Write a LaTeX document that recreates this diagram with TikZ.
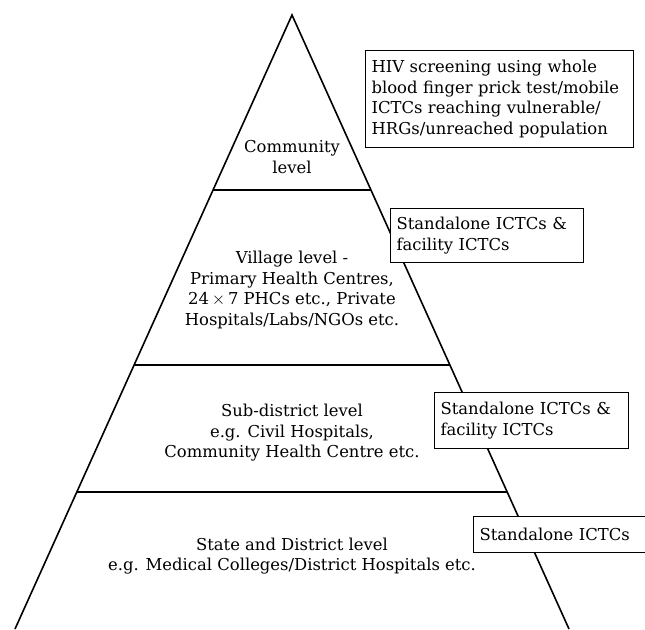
\documentclass[tikz,border=0pt]{standalone}
\usepackage{fontspec}
\setmainfont{DejaVu Serif}
\usepackage{tikz}
\usetikzlibrary{positioning, calc}
\newcommand{\tierfont}{\fontsize{16.4}{20.5}\selectfont}

\tikzset{
  tier/.style={align=center, font=\tierfont, inner sep=0pt},
  ictcbox/.style={draw, line width=1.2pt, fill=white, align=left, anchor=north west,
    inner xsep=6pt, inner ysep=4pt, font=\tierfont},
}

\begin{document}
\begin{tikzpicture}[x=1pt, y=-1pt, line width=1.6pt]
  \useasboundingbox (0,0) rectangle (645,629);
  % pyramid outline
  \coordinate (apex) at (292,15);
  \coordinate (bl) at (15,629);
  \coordinate (br) at (569,629);
  \draw (bl) -- (apex) -- (br);
  % tier separators
  \foreach \t/\n in {0.285/a, 0.570/b, 0.777/c} {
    \coordinate (sepL\n) at ($(apex)!\t!(bl)$);
    \coordinate (sepR\n) at ($(apex)!\t!(br)$);
    \draw (sepL\n) -- (sepR\n);
  }
  % tier labels
  \node[tier] (community) at (292,157) {Community\\level};
  \node[tier] (village) at (292,290) {Village level -\\Primary Health Centres,\\24\,$\times$\,7 PHCs etc., Private\\Hospitals/Labs/NGOs etc.};
  \node[tier] (subdistrict) at (292,433) {Sub-district level\\e.g. Civil Hospitals,\\Community Health Centre etc.};
  \node[tier] (state) at (292,556) {State and District level\\e.g. Medical Colleges/District Hospitals etc.};
  % testing facilities
  \node[ictcbox, text width=256pt, minimum height=97pt] (screenbox) at (365,50)
    {HIV screening using whole\\blood finger prick test/mobile\\ICTCs reaching vulnerable/\\HRGs/unreached population};
  \node[ictcbox, text width=181pt, minimum height=54pt] (villagebox) at (390,208)
    {Standalone ICTCs \&\\facility ICTCs};
  \node[ictcbox, text width=182pt, minimum height=56pt] (subbox) at (434,392)
    {Standalone ICTCs \&\\facility ICTCs};
  \node[ictcbox, text width=190pt, minimum height=36pt] (statebox) at (473,516)
    {Standalone ICTCs};
\end{tikzpicture}
\end{document}
